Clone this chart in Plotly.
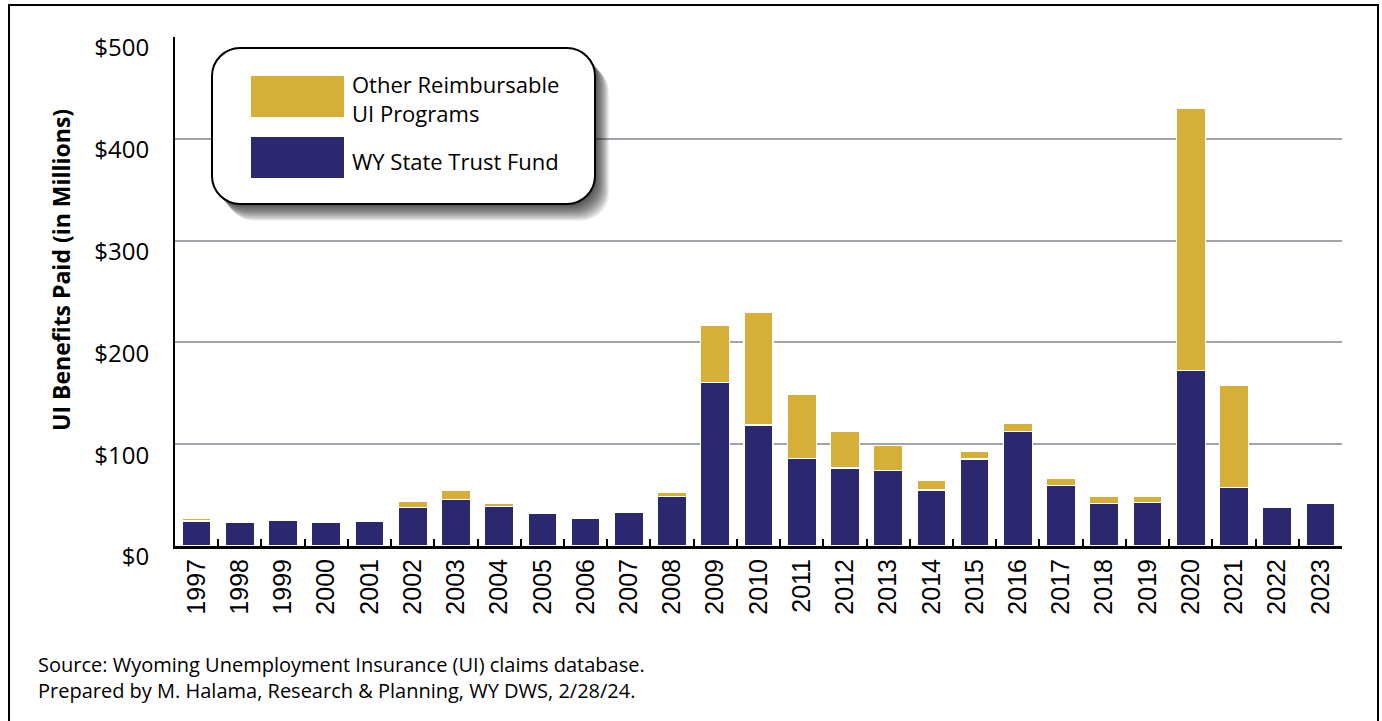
import plotly.graph_objects as go

years = [str(y) for y in range(1997, 2024)]
trust_fund = [24.5, 23.6, 25.2, 23.6, 24.2, 37.5, 45.5, 38.6, 31.7, 26.8, 32.7, 48.8,
              160.4, 118.9, 85.8, 76.6, 74.4, 55.0, 85.5, 112.3, 59.3, 41.6, 42.9,
              172.6, 57.6, 38.3, 41.6]
other_programs = [3.0, 0, 0.8, 0, 0, 6.5, 8.8, 3.2, 1.2, 1.2, 0, 3.8,
                  56.4, 110.7, 62.8, 36.0, 24.1, 9.8, 7.5, 7.9, 7.5, 6.8, 5.5,
                  257.4, 100.6, 0, 0]
y_ticks = [0, 100, 200, 300, 400, 500]
y_tick_text = ["$0", "$100", "$200", "$300", "$400", "$500"]

NAVY = "#2b2870"
GOLD = "#d5af37"

W, H = 1382, 721
# pixel positions of the plot area
PL, PR, PT, PB = 175, 1342, 37, 546
L, T = PL, PT
R = W - PR
B = H - PB
PW = PR - PL
PH = PB - PT


def px(x):
    return (x - PL) / PW


def py(y):
    return (PB - y) / PH


def rrect(x0, y0, x1, y1, r):
    k = 0.45
    return (
        f"M {px(x0 + r)},{py(y0)} "
        f"L {px(x1 - r)},{py(y0)} "
        f"C {px(x1 - r * k)},{py(y0)} {px(x1)},{py(y0 + r * k)} {px(x1)},{py(y0 + r)} "
        f"L {px(x1)},{py(y1 - r)} "
        f"C {px(x1)},{py(y1 - r * k)} {px(x1 - r * k)},{py(y1)} {px(x1 - r)},{py(y1)} "
        f"L {px(x0 + r)},{py(y1)} "
        f"C {px(x0 + r * k)},{py(y1)} {px(x0)},{py(y1 - r * k)} {px(x0)},{py(y1 - r)} "
        f"L {px(x0)},{py(y0 + r)} "
        f"C {px(x0)},{py(y0 + r * k)} {px(x0 + r * k)},{py(y0)} {px(x0 + r)},{py(y0)} Z"
    )


fig = go.Figure()
fig.add_trace(go.Bar(x=years, y=trust_fund, name="WY State Trust Fund",
                     marker=dict(color=NAVY, line=dict(color="white", width=1.2))))
fig.add_trace(go.Bar(x=years, y=other_programs, name="Other Reimbursable UI Programs",
                     marker=dict(color=GOLD, line=dict(color="white", width=1.2))))

shapes = []
# outer frame
shapes.append(dict(type="rect", xref="paper", yref="paper",
                   x0=px(9), x1=px(1378), y0=py(760), y1=py(5),
                   line=dict(color="black", width=2), fillcolor="rgba(0,0,0,0)", layer="above"))
# legend shadow
bx0, by0, bx1, by1 = 212, 48, 595, 204
for i in range(1, 15):
    shapes.append(dict(type="path", xref="paper", yref="paper",
                       path=rrect(bx0 + i, by0 + i * 1.2, bx1 + i, by1 + i * 1.2, 28),
                       fillcolor="rgba(0,0,0,0.07)", line=dict(width=0), layer="above"))
shapes.append(dict(type="path", xref="paper", yref="paper",
                   path=rrect(bx0, by0, bx1, by1, 28),
                   fillcolor="white", line=dict(color="black", width=2), layer="above"))
# legend swatches
shapes.append(dict(type="rect", xref="paper", yref="paper",
                   x0=px(251), x1=px(344), y0=py(117), y1=py(76),
                   fillcolor=GOLD, line=dict(width=0), layer="above"))
shapes.append(dict(type="rect", xref="paper", yref="paper",
                   x0=px(251), x1=px(344), y0=py(178), y1=py(137),
                   fillcolor=NAVY, line=dict(width=0), layer="above"))

annotations = [
    dict(xref="paper", yref="paper", x=px(350), y=py(99), xanchor="left", yanchor="middle",
         text="Other Reimbursable<br>UI Programs", showarrow=False, align="left",
         font=dict(family="Open Sans", size=22, color="black")),
    dict(xref="paper", yref="paper", x=px(350), y=py(161), xanchor="left", yanchor="middle",
         text="WY State Trust Fund", showarrow=False, align="left",
         font=dict(family="Open Sans", size=22, color="black")),
    dict(xref="paper", yref="paper", x=px(61), y=py(270), xanchor="center", yanchor="middle",
         text="<b>UI Benefits Paid (in Millions)</b>", textangle=-90, showarrow=False,
         font=dict(family="Open Sans", size=23, color="black")),
    dict(xref="paper", yref="paper", x=px(36), y=py(677), xanchor="left", yanchor="middle",
         text="Source: Wyoming Unemployment Insurance (UI) claims database.<br>"
              "Prepared by M. Halama, Research &amp; Planning, WY DWS, 2/28/24.",
         showarrow=False, align="left",
         font=dict(family="Open Sans", size=20, color="black")),
]

fig.update_layout(
    width=W, height=H,
    margin=dict(l=L, r=R, t=T, b=B),
    paper_bgcolor="white", plot_bgcolor="white",
    barmode="stack", bargap=0.33,
    showlegend=False,
    shapes=shapes,
    annotations=annotations,
    xaxis=dict(
        type="category", tickangle=-90,
        tickfont=dict(family="Liberation Sans", size=25, color="black"),
        showline=True, linecolor="black", linewidth=3,
        ticks="inside", tickson="boundaries", ticklen=7, tickwidth=2, tickcolor="black",
        showgrid=False, ticklabelstandoff=0,
    ),
    yaxis=dict(
        range=[0, 500], tickvals=y_ticks, ticktext=y_tick_text,
        tickfont=dict(family="Open Sans", size=24, color="black"),
        showline=True, linecolor="black", linewidth=2,
        showgrid=True, gridcolor="#a3a3ab", gridwidth=1.5,
        zeroline=False, ticks="", ticklabelstandoff=19, ticklabelshift=11,
    ),
)

fig.write_html(
    "out.html",
    config={"displayModeBar": False},
    post_script="document.body.style.margin='0';document.body.style.overflow='hidden';",
)
